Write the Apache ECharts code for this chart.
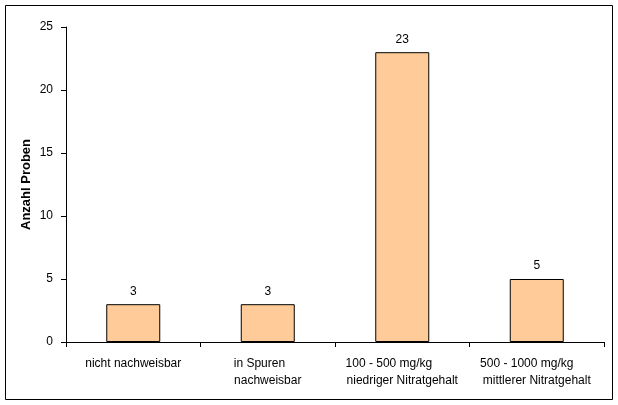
<!DOCTYPE html>
<html><head><meta charset="utf-8">
<script src="https://cdn.jsdelivr.net/npm/echarts@6/dist/echarts.min.js"></script>
<style>html,body{margin:0;padding:0;background:#fff}#c{width:618px;height:405px}</style>
</head><body><div id="c"></div>
<script>
var categories = [
  "nicht nachweisbar",
  "in Spuren\u00a0\u00a0\u00a0\u00a0\u00a0\nnachweisbar",
  "100 - 500 mg/kg\u00a0\u00a0\u00a0\u00a0\u00a0\u00a0\u00a0\u00a0\nniedriger Nitratgehalt",
  "500 - 1000 mg/kg\u00a0\u00a0\u00a0\u00a0\u00a0\u00a0\nmittlerer Nitratgehalt"
];
var counts = [3, 3, 23, 5];
var yTicks = [0, 5, 10, 15, 20, 25];
var yName = "Anzahl Proben";

var chart = echarts.init(document.getElementById('c'), null, {renderer: 'canvas'});
var font = 'Arial, "Liberation Sans", sans-serif';
chart.setOption({
  animation: false,
  backgroundColor: '#ffffff',
  graphic: [{
    type: 'rect', shape: {x: 5.5, y: 5.5, width: 607, height: 394},
    style: {fill: 'none', stroke: '#000', lineWidth: 1}, silent: true
  }],
  grid: {left: 66, right: 14, top: 27, bottom: 63, containLabel: false},
  xAxis: {
    type: 'category', data: categories,
    axisLine: {lineStyle: {color: '#000', width: 1}},
    axisTick: {show: true, alignWithLabel: false, inside: false, length: 5, lineStyle: {color: '#000'}},
    axisLabel: {color: '#000', fontFamily: font, fontSize: 12, margin: 13, lineHeight: 17, interval: 0, align: 'center'},
    splitLine: {show: false}
  },
  yAxis: {
    type: 'value', min: yTicks[0], max: yTicks[yTicks.length - 1], interval: 5,
    name: yName, nameLocation: 'middle', nameGap: 33, nameRotate: 90, nameMoveOverlap: false,
    nameTextStyle: {color: '#000', fontFamily: font, fontSize: 13, fontWeight: 'bold'},
    axisLine: {show: true, lineStyle: {color: '#000', width: 1}},
    axisTick: {show: true, length: 5, lineStyle: {color: '#000'}},
    axisLabel: {color: '#000', fontFamily: font, fontSize: 12, margin: 13},
    splitLine: {show: false}
  },
  series: [{
    type: 'bar', data: counts, barWidth: 54,
    itemStyle: {color: '#FFCC99', borderColor: '#000', borderWidth: 1},
    label: {show: true, position: 'top', distance: 7, color: '#000', fontFamily: font, fontSize: 12}
  }]
});
</script></body></html>
